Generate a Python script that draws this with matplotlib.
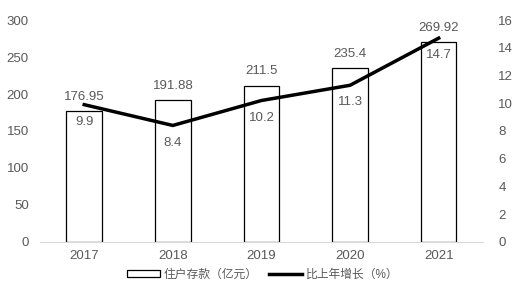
import numpy as np
import matplotlib
matplotlib.use('Agg')
import matplotlib.pyplot as plt

plt.rcParams['font.family'] = ['Liberation Sans', 'Noto Sans CJK SC', 'DejaVu Sans']

years = ['2017', '2018', '2019', '2020', '2021']
deposits = [176.95, 191.88, 211.5, 235.4, 269.92]
growth = [9.9, 8.4, 10.2, 11.3, 14.7]
deposit_labels = ['176.95', '191.88', '211.5', '235.4', '269.92']
growth_labels = ['9.9', '8.4', '10.2', '11.3', '14.7']

gray = '#595959'

fig = plt.figure(figsize=(5.25, 3.05), dpi=100)
ax = fig.add_axes([0.076, 0.207, 0.844, 0.727])
ax2 = ax.twinx()

x = np.arange(len(years))
bars = ax.bar(x, deposits, width=0.4, facecolor='white', edgecolor='black',
              linewidth=0.9, label='住户存款（亿元）', zorder=2)
line, = ax2.plot(x, growth, color='black', linewidth=2.5,
                 label='比上年增长（%）', zorder=3)

ax.set_xlim(-0.5, 4.5)
ax.set_ylim(0, 300)
ax.set_yticks(range(0, 301, 50))
ax2.set_ylim(0, 16)
ax2.set_yticks(range(0, 17, 2))
ax.set_xticks(x)
ax.set_xticklabels(years)

for a in (ax, ax2):
    for s in a.spines.values():
        s.set_visible(False)
    a.tick_params(length=0, labelsize=9.5, colors=gray)
ax.spines['bottom'].set_visible(True)
ax.spines['bottom'].set_color('#d9d9d9')
ax.tick_params(axis='y', pad=8)
ax.tick_params(axis='x', pad=6)
ax2.tick_params(axis='y', pad=11)

ax2.set_zorder(ax.get_zorder() + 1)
ax2.patch.set_visible(False)

for xi, v, t in zip(x, deposits, deposit_labels):
    ax.annotate(t, (xi, v), xytext=(0, 6), textcoords='offset points',
                ha='center', va='bottom', fontsize=9.5, color=gray)
for xi, v, t in zip(x, growth, growth_labels):
    ax2.annotate(t, (xi, v), xytext=(0, -8), textcoords='offset points',
                 ha='center', va='top', fontsize=9.5, color=gray)

fig.legend(handles=[bars, line], loc='center', bbox_to_anchor=(0.5, 0.1),
           ncol=2, frameon=False, fontsize=8.5, labelcolor=gray,
           handlelength=2.8, handleheight=0.5, columnspacing=1.0, handletextpad=0.3)

fig.savefig('out.png', dpi=100)
